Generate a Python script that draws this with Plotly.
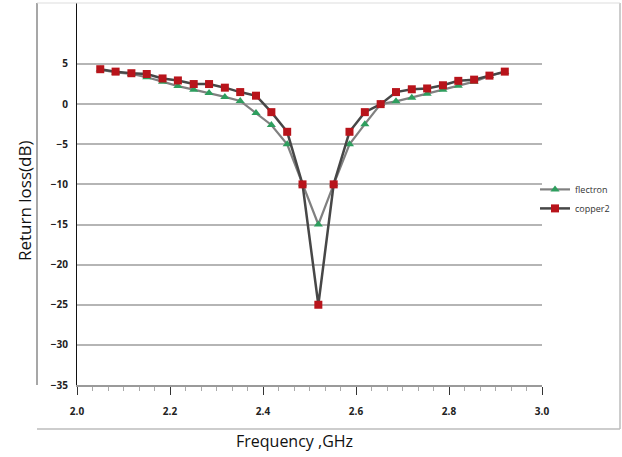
import plotly.graph_objects as go

freq_ghz = [2.05, 2.083, 2.117, 2.15, 2.184, 2.217, 2.251, 2.284, 2.318, 2.351,
            2.385, 2.418, 2.452, 2.485, 2.519, 2.552, 2.586, 2.619, 2.653, 2.686,
            2.72, 2.753, 2.787, 2.82, 2.854, 2.887, 2.92]
flectron = [4.3, 3.95, 3.75, 3.35, 2.8, 2.25, 1.8, 1.4, 0.9, 0.4,
            -1.1, -2.6, -5.0, -10.0, -15.0, -10.0, -5.0, -2.5, 0.0, 0.35,
            0.8, 1.3, 1.8, 2.3, 2.8, 3.5, 4.0]
copper2 = [4.35, 4.05, 3.85, 3.75, 3.2, 2.95, 2.5, 2.5, 2.05, 1.5,
           1.05, -1.0, -3.45, -10.0, -25.0, -10.0, -3.45, -1.0, 0.0, 1.5,
           1.85, 1.95, 2.35, 2.9, 3.05, 3.55, 4.05]
y_ticks = [5, 0, -5, -10, -15, -20, -25, -30, -35]
x_ticks = [2.0, 2.2, 2.4, 2.6, 2.8, 3.0]
x_tick_labels = ["2.0", "2.2", "2.4", "2.6", "2.8", "3.0"]

W, H = 622, 457
ML, MR, MT, MB = 77, 80, 3, 72

fig = go.Figure()
fig.add_trace(go.Scatter(
    x=freq_ghz, y=flectron, name="flectron", mode="lines+markers",
    line=dict(color="#808080", width=2.2),
    marker=dict(symbol="triangle-up", size=8, color="#2e9e5e"),
))
fig.add_trace(go.Scatter(
    x=freq_ghz, y=copper2, name="copper2", mode="lines+markers",
    line=dict(color="#474747", width=2.5),
    marker=dict(symbol="square", size=8, color="#b8141b"),
))

fig.update_layout(
    width=W, height=H,
    margin=dict(l=ML, r=MR, t=MT, b=MB, autoexpand=False),
    paper_bgcolor="white", plot_bgcolor="white",
    font=dict(family="Open Sans", color="#222"),
    legend=dict(x=0.985, y=0.55, xanchor="left", yanchor="top",
                font=dict(size=9, color="#333"), bgcolor="rgba(0,0,0,0)",
                tracegroupgap=2, itemwidth=30),
    xaxis=dict(
        range=[2.0, 3.0], tickvals=x_ticks, ticktext=x_tick_labels,
        showgrid=False, zeroline=False, automargin=False,
        showline=True, linecolor="#9a9a9a", linewidth=1.5,
        ticks="outside", ticklen=8, tickcolor="#333", tickwidth=1,
        ticklabelstandoff=8,
        tickfont=dict(size=10, color="#222", weight="bold"),
        minor=dict(dtick=0.2 / 6, ticks="outside", ticklen=4, tickcolor="#aaa"),
    ),
    yaxis=dict(
        range=[-35, 12.6], tickvals=y_ticks,
        showgrid=True, gridcolor="#b5b5b5", gridwidth=1.5,
        zeroline=False, automargin=False,
        showline=True, linecolor="#111", linewidth=1.2,
        ticks="", ticklabelstandoff=6,
        tickfont=dict(size=10, color="#222", weight="bold"),
    ),
    showlegend=True,
)

def px(x):
    return (x - ML) / (W - ML - MR)
def py(y):
    return (H - MB - y) / (H - MB - MT)

# axis titles placed where the original has them
fig.add_annotation(text="Return loss(dB)", xref="paper", yref="paper",
                   x=px(25), y=py(201), xanchor="center", yanchor="middle",
                   textangle=-90, showarrow=False,
                   font=dict(size=17, color="#111"))
fig.add_annotation(text="Frequency ,GHz", xref="paper", yref="paper",
                   x=px(294), y=py(441), xanchor="center", yanchor="middle",
                   showarrow=False, font=dict(size=16, color="#111"))

# outer frame lines of the original figure
frame_color = "#bdbdbd"
fig.add_shape(type="line", xref="paper", yref="paper",
              x0=px(37), x1=px(37), y0=py(3), y1=py(385),
              line=dict(color="#8a8a8a", width=1.5))
fig.add_shape(type="line", xref="paper", yref="paper",
              x0=px(37), x1=px(620), y0=py(429), y1=py(429),
              line=dict(color=frame_color, width=1.5))
fig.add_shape(type="line", xref="paper", yref="paper",
              x0=px(620), x1=px(620), y0=py(3), y1=py(429),
              line=dict(color=frame_color, width=1.5))
fig.add_shape(type="line", xref="paper", yref="paper",
              x0=px(37), x1=px(620), y0=py(3), y1=py(3),
              line=dict(color="#dddddd", width=1))

fig.write_html("out.html", config={"displayModeBar": False},
               post_script="document.body.style.margin='0';document.body.style.overflow='hidden';")
